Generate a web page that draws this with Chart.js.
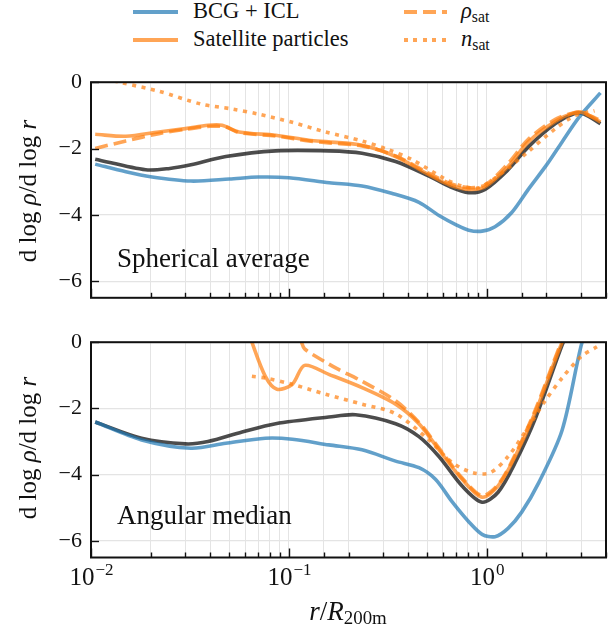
<!DOCTYPE html>
<html>
<head>
<meta charset="utf-8">
<script src="https://cdn.jsdelivr.net/npm/chart.js@4.4.1/dist/chart.umd.min.js"></script>
<style>
  body { margin: 0; background: #fff; width: 615px; height: 627px; position: relative; overflow: hidden;
         font-family: "Liberation Serif", serif; color: #111; }
  canvas { position: absolute; left: 0; }
  #topChart { top: 60px; }
  #bottomChart { top: 320px; }
  .txt { position: absolute; white-space: nowrap; line-height: 1; }
  .key { position: absolute; height: 4px; width: 45px; }
  .ytitle { position: absolute; white-space: nowrap; font-size: 25px; line-height: 1;
            transform: translate(-50%, -50%) rotate(-90deg); }
  sub { font-size: 70%; vertical-align: -0.25em; }
</style>
</head>
<body>
<!-- legend -->
<div class="key" style="left:133px;top:10px;background:rgba(31,119,180,0.7)"></div>
<div class="txt" style="left:193px;top:0px;font-size:22.5px">BCG + ICL</div>
<div class="key" style="left:133px;top:38px;background:rgba(255,127,14,0.7)"></div>
<div class="txt" style="left:193px;top:28px;font-size:22.5px">Satellite particles</div>
<div class="key" style="left:404px;top:10px;width:43px;background:repeating-linear-gradient(90deg,rgba(255,127,14,0.7) 0 13px,transparent 13px 19px)"></div>
<div class="txt" style="left:461px;top:0px;font-size:22.5px"><i>ρ</i><sub>sat</sub></div>
<div class="key" style="left:404px;top:38px;width:43px;background:repeating-linear-gradient(90deg,rgba(255,127,14,0.7) 0 4px,transparent 4px 9.5px)"></div>
<div class="txt" style="left:461px;top:28px;font-size:22.5px"><i>n</i><sub>sat</sub></div>

<canvas id="topChart" width="615" height="260"></canvas>
<canvas id="bottomChart" width="615" height="307"></canvas>

<div class="txt" style="left:117px;top:245px;font-size:27px">Spherical average</div>
<div class="txt" style="left:117px;top:502px;font-size:27px">Angular median</div>
<div class="ytitle" style="left:27px;top:191px">d log <i>ρ</i>/d log <i>r</i></div>
<div class="ytitle" style="left:27px;top:448px">d log <i>ρ</i>/d log <i>r</i></div>
<div class="txt" style="left:348px;top:613px;font-size:27px;transform:translate(-50%,-50%)"><i>r</i>/<i>R</i><sub>200m</sub></div>

<script>
// ---- Spherical average (top panel) ----
const sphBcgR = [0.0105, 0.015, 0.02, 0.032, 0.05, 0.07, 0.1, 0.16, 0.234, 0.33, 0.454, 0.573, 0.7, 0.81, 0.946, 1.10, 1.34, 1.62, 2.0, 2.4, 2.92, 3.75];
const sphBcgS = [-2.47, -2.70, -2.85, -2.98, -2.92, -2.86, -2.88, -3.03, -3.13, -3.35, -3.62, -4.02, -4.30, -4.46, -4.49, -4.36, -3.92, -3.23, -2.50, -1.80, -1.06, -0.32];

const sphTotR = [0.0105, 0.0189, 0.025, 0.032, 0.048, 0.0857, 0.159, 0.234, 0.346, 0.51, 0.65, 0.81, 0.98, 1.28, 1.62, 2.22, 2.79, 3.1, 3.75];
const sphTotS = [-2.32, -2.64, -2.60, -2.49, -2.24, -2.07, -2.07, -2.14, -2.39, -2.83, -3.15, -3.33, -3.23, -2.64, -1.95, -1.25, -0.94, -0.96, -1.25];

const sphSatR = [0.0105, 0.015, 0.022, 0.03, 0.039, 0.046, 0.056, 0.0857, 0.126, 0.159, 0.234, 0.346, 0.51, 0.65, 0.81, 0.98, 1.28, 1.62, 2.22, 2.79, 3.1, 3.75];
const sphSatS = [-1.57, -1.63, -1.50, -1.40, -1.30, -1.30, -1.50, -1.60, -1.75, -1.80, -1.90, -2.24, -2.79, -3.10, -3.23, -3.15, -2.54, -1.80, -1.18, -0.91, -0.93, -1.20];

const sphRhoR = [0.0105, 0.015, 0.022, 0.03, 0.04, 0.048, 0.056, 0.0857, 0.126, 0.159, 0.234, 0.346, 0.51, 0.65, 0.81, 0.98, 1.28, 1.62, 2.22, 2.79, 3.1, 3.75];
const sphRhoS = [-2.00, -1.77, -1.55, -1.42, -1.33, -1.35, -1.52, -1.62, -1.77, -1.83, -1.92, -2.22, -2.75, -3.05, -3.18, -3.10, -2.45, -1.72, -1.12, -0.92, -0.95, -1.15];

const sphNR = [0.0105, 0.0144, 0.022, 0.036, 0.052, 0.07, 0.104, 0.153, 0.234, 0.32, 0.42, 0.62, 0.75, 0.91, 1.19, 1.62, 2.22, 2.79, 3.5];
const sphNS = [0.17, -0.02, -0.27, -0.66, -0.81, -0.96, -1.21, -1.50, -1.77, -2.04, -2.34, -2.93, -3.13, -3.18, -2.74, -2.09, -1.40, -1.01, -0.86];

// ---- Angular median (bottom panel) ----
const angBcgR = [0.0105, 0.018, 0.032, 0.048, 0.076, 0.104, 0.159, 0.234, 0.346, 0.454, 0.55, 0.67, 0.81, 0.946, 1.10, 1.28, 1.5, 1.83, 2.4, 3.0, 3.3];
const angBcgS = [-2.41, -2.95, -3.20, -3.05, -2.90, -2.93, -3.10, -3.25, -3.59, -3.79, -4.14, -4.83, -5.42, -5.80, -5.87, -5.62, -5.13, -4.24, -2.66, -0.09, 0.6];

const angTotR = [0.0105, 0.018, 0.030, 0.039, 0.058, 0.0857, 0.159, 0.217, 0.346, 0.454, 0.573, 0.75, 0.946, 1.14, 1.39, 1.77, 2.4, 2.7];
const angTotS = [-2.41, -2.90, -3.07, -3.00, -2.71, -2.46, -2.26, -2.19, -2.46, -2.85, -3.45, -4.34, -4.83, -4.53, -3.64, -2.26, -0.09, 0.6];

const angSatR = [0.062, 0.065, 0.076, 0.087, 0.104, 0.12, 0.159, 0.234, 0.346, 0.454, 0.573, 0.75, 0.946, 1.14, 1.39, 1.77, 2.4, 2.7];
const angSatS = [0.4, 0.0, -1.03, -1.42, -1.27, -0.70, -0.97, -1.37, -1.87, -2.46, -3.25, -4.14, -4.68, -4.34, -3.45, -2.07, 0.0, 0.6];

const angRhoR = [0.115, 0.12, 0.153, 0.175, 0.234, 0.346, 0.454, 0.573, 0.75, 0.946, 1.14, 1.39, 1.77, 2.4, 2.7];
const angRhoS = [0.05, -0.2, -0.6, -0.8, -1.18, -1.77, -2.42, -3.20, -4.10, -4.63, -4.30, -3.40, -2.00, 0.05, 0.6];

const angNR = [0.065, 0.076, 0.104, 0.153, 0.234, 0.346, 0.51, 0.67, 0.85, 1.04, 1.28, 1.62, 1.97, 2.4, 3.0, 3.6];
const angNS = [-1.03, -1.08, -1.27, -1.57, -1.87, -2.16, -2.95, -3.64, -3.94, -3.94, -3.45, -2.56, -1.77, -1.08, -0.43, -0.14];

const yTicks = [-6, -4, -2, 0];
const xLabelTicks = [0.01, 0.1, 1];

const BLUE = "rgba(31,119,180,0.7)";
const ORANGE = "rgba(255,127,14,0.7)";
const DARK = "rgba(0,0,0,0.7)";
const FONT = "'Liberation Serif', serif";

function pts(xs, ys) {
    return xs.map((x, i) => ({ x: x, y: ys[i] }));
}

function line(data, color, dash, order) {
    return {
        data: data,
        borderColor: color,
        borderWidth: 3.6,
        borderDash: dash,
        borderCapStyle: "butt",
        pointRadius: 0,
        tension: 0.3,
        fill: false,
        clip: 0,
        order: order
    };
}

// frame, inward ticks and 10^n labels
const axesDecor = {
    id: "axesDecor",
    afterDraw(chart, args, opts) {
        const { ctx, chartArea: a, scales } = chart;
        const xs = scales.x, ys = scales.y;
        ctx.save();
        ctx.strokeStyle = "#111";
        ctx.lineWidth = 1.4;
        xs.ticks.forEach(t => {
            const lg = Math.log10(t.value);
            const major = Math.abs(lg - Math.round(lg)) < 1e-6;
            const px = Math.round(xs.getPixelForValue(t.value)) + 0.5;
            ctx.beginPath();
            ctx.moveTo(px, a.bottom);
            ctx.lineTo(px, a.bottom - (major ? 9 : 5));
            ctx.stroke();
        });
        yTicks.forEach(v => {
            const py = Math.round(ys.getPixelForValue(v)) + 0.5;
            ctx.beginPath();
            ctx.moveTo(a.left, py);
            ctx.lineTo(a.left + 8, py);
            ctx.stroke();
        });
        ctx.lineWidth = 2;
        ctx.strokeRect(a.left, a.top, a.right - a.left, a.bottom - a.top);

        if (opts.labels) {
            ctx.fillStyle = "#111";
            ctx.textBaseline = "alphabetic";
            xLabelTicks.forEach(v => {
                const px = xs.getPixelForValue(v);
                const base = "10";
                const exp = String(Math.round(Math.log10(v))).replace("-", "\u2212");
                ctx.font = "25px " + FONT;
                const wb = ctx.measureText(base).width;
                ctx.font = "17px " + FONT;
                const we = ctx.measureText(exp).width;
                const x0 = px - (wb + we) / 2;
                ctx.font = "25px " + FONT;
                ctx.textAlign = "left";
                ctx.fillText(base, x0, a.bottom + 27.5);
                ctx.font = "17px " + FONT;
                ctx.fillText(exp, x0 + wb + 1, a.bottom + 17.5);
            });
        }
        ctx.restore();
    }
};

function makeChart(id, datasets, padTop, xHeight, showLabels) {
    return new Chart(document.getElementById(id), {
        type: "line",
        data: { datasets: datasets },
        plugins: [axesDecor],
        options: {
            responsive: false,
            animation: false,
            devicePixelRatio: 1,
            layout: { padding: { top: padTop, right: 9, bottom: 0, left: 0 } },
            plugins: {
                legend: { display: false },
                tooltip: { enabled: false },
                axesDecor: { labels: showLabels }
            },
            scales: {
                x: {
                    type: "logarithmic",
                    min: 0.01,
                    max: 4,
                    border: { display: false },
                    grid: { color: "#e4e4e4", lineWidth: 1, drawTicks: false },
                    ticks: { display: false },
                    afterFit: s => { s.height = xHeight; }
                },
                y: {
                    min: -6.5,
                    max: 0,
                    border: { display: false },
                    grid: { color: "#e4e4e4", lineWidth: 1.2, drawTicks: false },
                    afterBuildTicks: s => { s.ticks = yTicks.map(v => ({ value: v })); },
                    afterFit: s => { s.width = 91; },
                    ticks: {
                        padding: 9,
                        color: "#111",
                        font: { family: FONT, size: 22 },
                        callback: v => String(v).replace("-", "\u2212")
                    }
                }
            }
        }
    });
}

makeChart("topChart", [
    line(pts(sphTotR, sphTotS), DARK, [], 5),
    line(pts(sphBcgR, sphBcgS), BLUE, [], 4),
    line(pts(sphSatR, sphSatS), ORANGE, [], 3),
    line(pts(sphRhoR, sphRhoS), ORANGE, [13, 6], 2),
    line(pts(sphNR, sphNS), ORANGE, [4, 5.5], 1)
], 21, 19.5, false);

makeChart("bottomChart", [
    line(pts(angTotR, angTotS), DARK, [], 5),
    line(pts(angBcgR, angBcgS), BLUE, [], 4),
    line(pts(angSatR, angSatS), ORANGE, [], 3),
    line(pts(angRhoR, angRhoS), ORANGE, [13, 6], 2),
    line(pts(angNR, angNS), ORANGE, [4, 5.5], 1)
], 18, 69.5, true);
</script>
</body>
</html>
